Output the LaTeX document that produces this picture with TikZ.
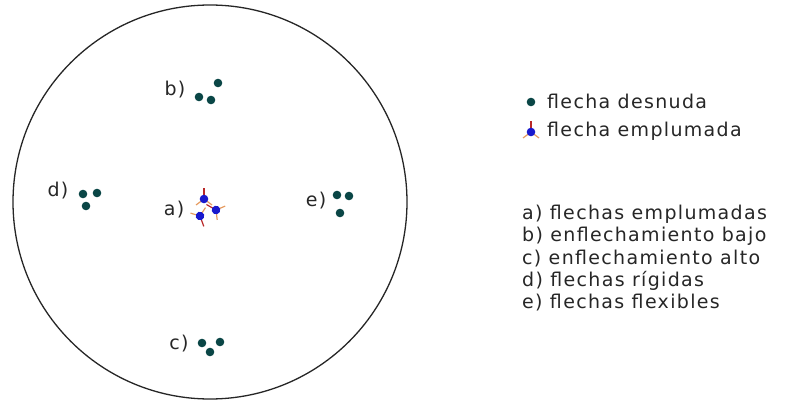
\documentclass[tikz,border=0pt]{standalone}
\usepackage{fontspec}
\setmainfont[LetterSpace=7]{DejaVu Sans}
\definecolor{desnuda}{RGB}{10,70,70}
\definecolor{punta}{RGB}{25,25,205}
\definecolor{plumaroja}{RGB}{185,40,40}
\definecolor{plumanaranja}{RGB}{230,155,95}
\tikzset{
  texto/.style={font=\fontsize{19}{22}\selectfont, inner sep=0pt, text=black!85},
  leyenda/.style={texto, anchor=base west},
}
% flecha sin plumas
\newcommand{\desnuda}[1]{\fill[desnuda] #1 circle (4.3);}
% flecha con plumas: posicion, giro
\newcommand{\plumada}[2]{%
  \begin{scope}[shift={#1}, rotate=#2]
    \draw[plumaroja, line width=1.2] (0,0) -- (0,-11);
    \draw[plumanaranja, line width=1.2] (0,0) -- (-8,6) (0,0) -- (8,6);
    \fill[punta] (0,0) circle (4.3);
  \end{scope}}
\begin{document}
\begin{tikzpicture}[x=1pt,y=-1pt]
	\useasboundingbox (0,0) rectangle (803,401);
	\draw[line width=1.3, black!85] (210,202) circle (197);
	% b)
	\node[texto] (b) at (175,90) {b)};
	\desnuda{(199,97)} \desnuda{(211,100)} \desnuda{(218,83)}
	% d)
	\node[texto] (d) at (58,191) {d)};
	\desnuda{(83,194)} \desnuda{(97,193)} \desnuda{(86,206)}
	% e)
	\node[texto] (e) at (316,201) {e)};
	\desnuda{(337,195)} \desnuda{(349,196)} \desnuda{(340,213)}
	% c)
	\node[texto] (c) at (179,344) {c)};
	\desnuda{(202,343)} \desnuda{(220,342)} \desnuda{(210,352)}
	% a)
	\node[texto] (a) at (174,210) {a)};
	\plumada{(204,199)}{0}
	\plumada{(216,210)}{60}
	\plumada{(200,216)}{200}
	% leyenda
	\desnuda{(531,102)}
	\node[leyenda] (l1) at (547,109) {flecha desnuda};
	\plumada{(531,132)}{0}
	\node[leyenda] (l2) at (547,137) {flecha emplumada};
	\node[leyenda] (la) at (522,219) {a) flechas emplumadas};
	\node[leyenda] (lb) at (522,241) {b) enflechamiento bajo};
	\node[leyenda] (lc) at (522,264) {c) enflechamiento alto};
	\node[leyenda] (ld) at (522,286) {d) flechas rígidas};
	\node[leyenda] (le) at (522,308) {e) flechas flexibles};
\end{tikzpicture}
\end{document}
